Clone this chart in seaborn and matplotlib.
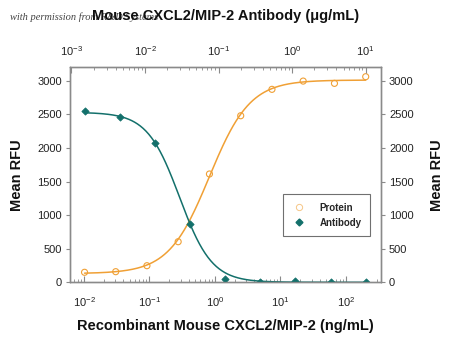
import numpy as np
import pandas as pd
import matplotlib
matplotlib.use("Agg")
import matplotlib.pyplot as plt
import seaborn as sns
from matplotlib.ticker import LogLocator, NullFormatter, LogFormatterMathtext
from matplotlib.lines import Line2D

# ---------------- data ----------------
protein_conc = [0.0102, 0.0305, 0.0914, 0.274, 0.823, 2.47, 7.41, 22.2, 66.7, 200]   # ng/mL
protein_rfu = [149, 158, 247, 604, 1612, 2479, 2872, 2995, 2961, 3060]
antibody_conc = [0.00152, 0.00457, 0.0137, 0.0412, 0.123, 0.370, 1.11, 3.33, 10]   # ug/mL
antibody_rfu = [2549, 2464, 2077, 868, 45, 5, 25, 5, 5]
# 4-parameter logistic fits
# lo = response at low concentration, hi = response at high concentration
protein_fit = dict(lo=130, hi=3010, ec50=0.82, hill=1.4)
antibody_fit = dict(lo=2530, hi=0, ec50=0.0295, hill=1.98)
y_ticks = [0, 500, 1000, 1500, 2000, 2500, 3000]

title_text = "Mouse CXCL2/MIP-2 Antibody (\u03bcg/mL)"
xlabel_text = "Recombinant Mouse CXCL2/MIP-2 (ng/mL)"
ylabel_text = "Mean RFU"
watermark_text = "with permission from R&D Systems"

ORANGE = "#F0A035"
GREEN = "#13706B"
SPINE = "#8a8a8a"

sns.set_theme(style="ticks")
FONT = ["Liberation Sans", "DejaVu Sans"]
plt.rcParams["font.family"] = FONT


def four_pl(x, p):
    x = np.asarray(x, dtype=float)
    return p["lo"] + (p["hi"] - p["lo"]) / (1 + (p["ec50"] / x) ** p["hill"])


fig = plt.figure(figsize=(4.5, 3.47), dpi=100)
ax = fig.add_axes([70.3 / 450, 1 - 282.3 / 347, (380.7 - 70.3) / 450, (282.3 - 67.3) / 347])
ax.set_xscale("log")
ax.set_xlim(10 ** -2.209, 10 ** 2.53)
ax.set_ylim(0, 3200)

# protein curve + points (bottom axis, ng/mL)
xp = np.logspace(np.log10(protein_conc[0]), np.log10(protein_conc[-1]), 300)
sns.lineplot(x=xp, y=four_pl(xp, protein_fit), ax=ax, color=ORANGE, lw=1.1, zorder=2)
sns.scatterplot(x=protein_conc, y=protein_rfu, ax=ax, marker="o", s=19,
                facecolor="none", edgecolor=ORANGE, linewidth=0.8, zorder=3)

# antibody on top axis (ug/mL)
axt = ax.twiny()
axt.set_xscale("log")
axt.set_xlim(10 ** -3.016, 10 ** 1.204)
xa = np.logspace(np.log10(antibody_conc[0]), np.log10(antibody_conc[-1]), 300)
sns.lineplot(x=xa, y=four_pl(xa, antibody_fit), ax=axt, color=GREEN, lw=1.1, zorder=2)
sns.scatterplot(x=antibody_conc, y=antibody_rfu, ax=axt, marker="D", s=14,
                color=GREEN, edgecolor=GREEN, linewidth=0.5, zorder=3)
axt.set_ylim(0, 3200)

# right y axis
axr = ax.twinx()
axr.set_ylim(0, 3200)

for a in (ax, axt, axr):
    for s in a.spines.values():
        s.set_color(SPINE)
        s.set_linewidth(0.9)
    a.grid(False)

tick_font = dict(labelsize=8, colors="#222222")
ax.set_yticks(y_ticks)
axr.set_yticks(y_ticks)
ax.tick_params(axis="y", direction="out", length=3, width=0.8, color=SPINE, pad=3, **tick_font)
axr.tick_params(axis="y", direction="out", length=3, width=0.8, color=SPINE, pad=3, **tick_font)

for a, pad in ((ax, 9), (axt, 7)):
    a.xaxis.set_major_locator(LogLocator(base=10, numticks=12))
    a.xaxis.set_minor_locator(LogLocator(base=10, subs=np.arange(2, 10), numticks=12))
    a.xaxis.set_major_formatter(LogFormatterMathtext())
    a.xaxis.set_minor_formatter(NullFormatter())
    a.tick_params(axis="x", which="major", direction="in", length=4, width=0.8, color=SPINE, pad=pad, **tick_font)
    a.tick_params(axis="x", which="minor", direction="in", length=2.2, width=0.6, color=SPINE)

for lab in ax.get_xticklabels() + axt.get_xticklabels() + ax.get_yticklabels() + axr.get_yticklabels():
    lab.set_family(FONT)

ax.set_xlabel("")
ax.set_ylabel("")
axt.set_xlabel("")
axr.set_ylabel("")

# labels
lab_kw = dict(fontsize=10.5, fontweight="bold", family=FONT, color="#111111")
fig.text(17 / 450, 1 - 175 / 347, ylabel_text, rotation=90, ha="center", va="center", **lab_kw)
fig.text(437 / 450, 1 - 175 / 347, ylabel_text, rotation=90, ha="center", va="center", **lab_kw)
fig.text(225 / 450, 1 - 326 / 347, xlabel_text, ha="center", va="center", **lab_kw)
fig.text(10 / 450, 1 - 17 / 347, watermark_text, ha="left", va="center", fontsize=7.5,
         style="italic", family=["Liberation Serif", "DejaVu Serif"], color="#444444", zorder=1)
fig.text(226 / 450, 1 - 16 / 347, title_text, ha="center", va="center", zorder=5, **lab_kw)

# legend
handles = [
    Line2D([], [], ls="none", marker="o", ms=4.5, mfc="none", mec=ORANGE, mew=0.7, alpha=0.6),
    Line2D([], [], ls="none", marker="D", ms=3.5, mfc=GREEN, mec=GREEN),
]
leg = ax.legend(handles, ["Protein", "Antibody"], loc="upper left",
                bbox_to_anchor=((282.7 - 70.3) / 310.4, 1 - (194 - 67.3) / 215),
                borderaxespad=0,
                frameon=True, fancybox=False, edgecolor="#707070", framealpha=1,
                prop=dict(family=FONT, weight="bold", size=7),
                handletextpad=1.4, borderpad=0.9, labelspacing=0.5, handlelength=1.5)
leg.get_frame().set_linewidth(0.8)
leg.set_zorder(10)

fig.savefig("out.png", dpi=100)
